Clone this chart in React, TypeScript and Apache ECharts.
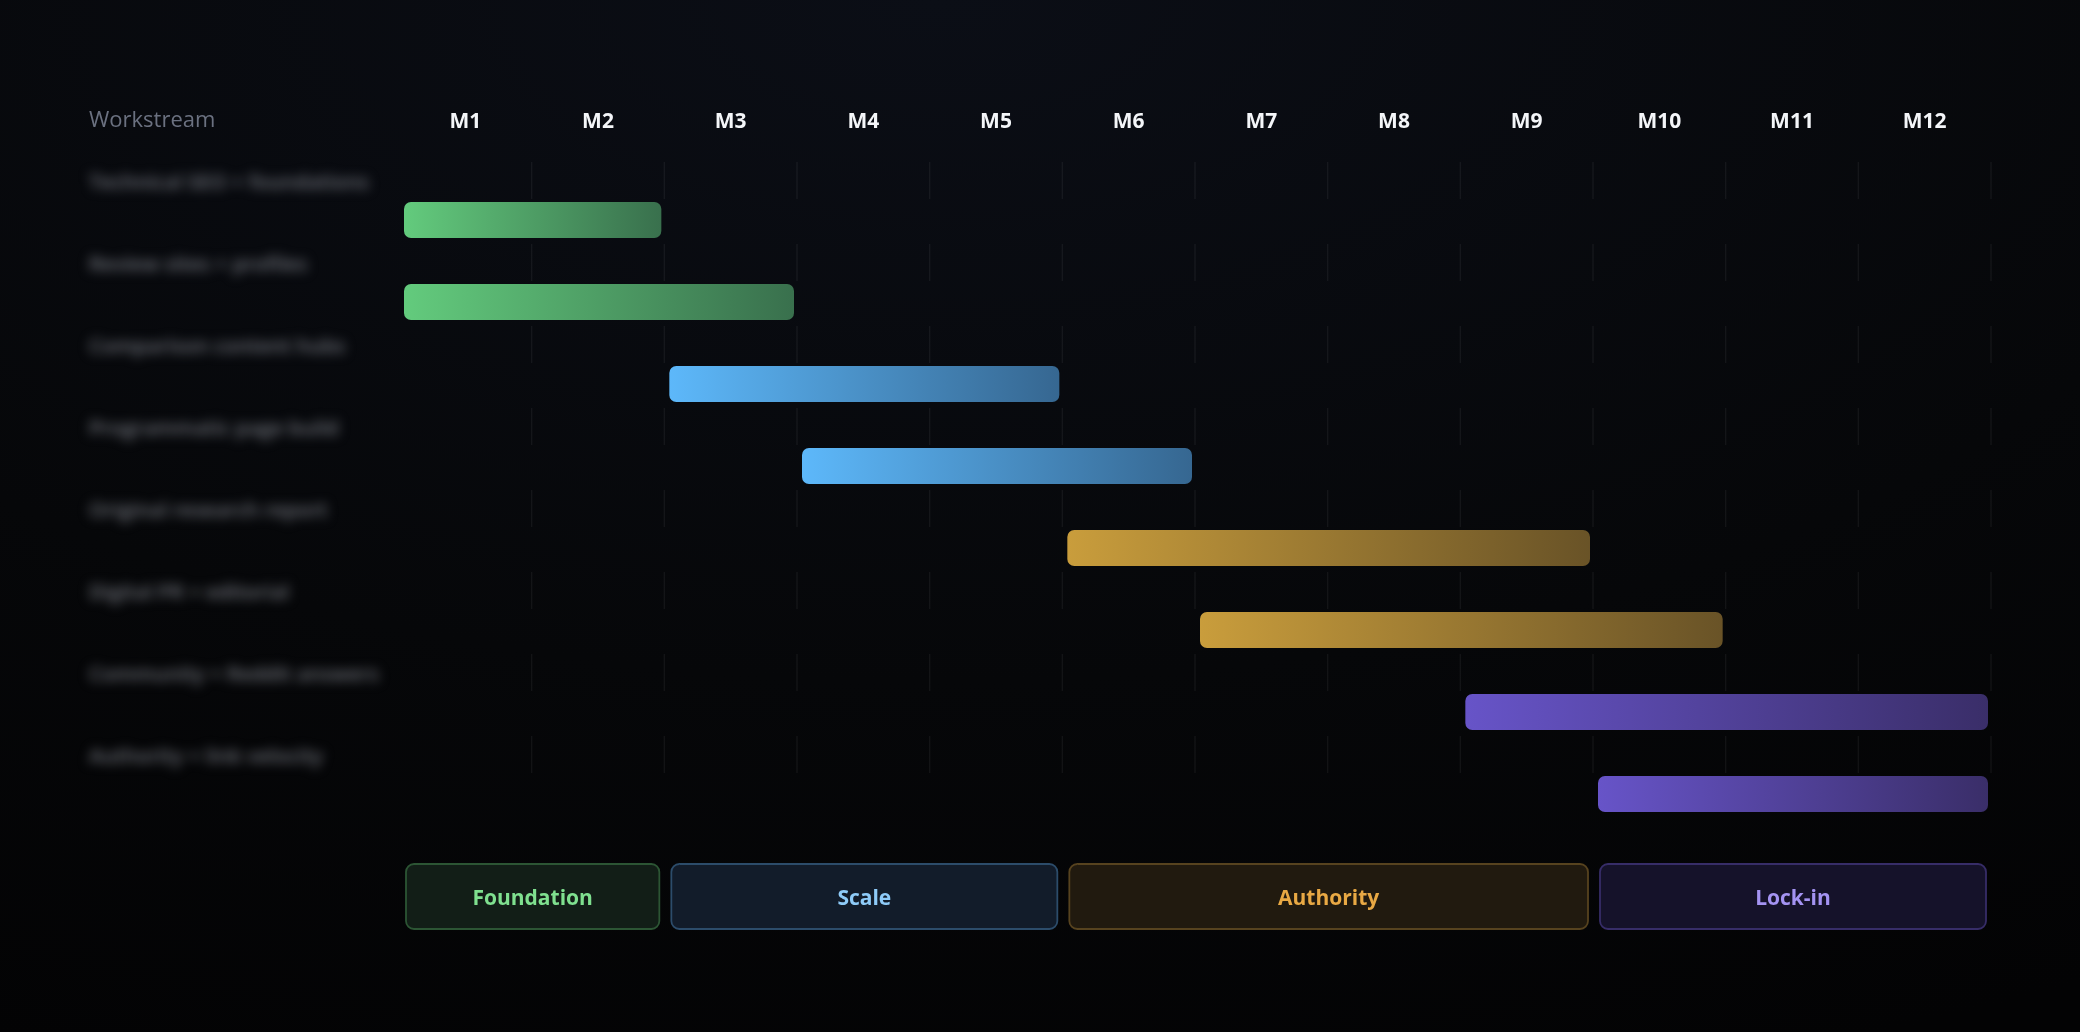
import React, { useEffect, useRef } from "react";
import * as echarts from "echarts";

// ---- data ----
const months = ["M1", "M2", "M3", "M4", "M5", "M6", "M7", "M8", "M9", "M10", "M11", "M12"];
const workstreams = [
  "Technical SEO + foundations",
  "Review sites + profiles",
  "Comparison content hubs",
  "Programmatic page build",
  "Original research report",
  "Digital PR + editorial",
  "Community + Reddit answers",
  "Authority + link velocity",
];
const barStart = [0, 0, 2, 3, 5, 6, 8, 9];
const barEnd = [2, 3, 5, 6, 9, 10, 12, 12];
const barPhase = [0, 0, 1, 1, 2, 2, 3, 3];

const phases = ["Foundation", "Scale", "Authority", "Lock-in"];
const phaseStart = [0, 2, 5, 9];
const phaseEnd = [2, 5, 9, 12];

// ---- styles ----
const FONT = '"Open Sans", "Noto Sans", sans-serif';
const barColors = [
  ["#63cb7d", "#39704d"],
  ["#5db8fa", "#366791"],
  ["#c99d3c", "#695327"],
  ["#6754c8", "#3a2e69"],
];
const phaseText = ["#7fe08f", "#8ecbf8", "#e9a944", "#a493f2"];
const phaseFill = ["#121e17", "#121c2a", "#211a0f", "#15122a"];
const phaseBorder = ["#2c5534", "#2c4c6a", "#57431f", "#372d68"];

export default function App() {
  const ref = useRef<HTMLDivElement>(null);

  useEffect(() => {
    if (!ref.current) return;
    const chart = echarts.init(ref.current, undefined, { renderer: "svg" });
    const rows = workstreams.length;

    const option: any = {
      animation: false,
      backgroundColor: {
        type: "radial",
        x: 0.45,
        y: 0,
        r: 1.1,
        colorStops: [
          { offset: 0, color: "#0b0e16" },
          { offset: 0.6, color: "#060709" },
          { offset: 1, color: "#030304" },
        ],
      },
      textStyle: { fontFamily: FONT },
      grid: { left: 399, top: 160, width: 1592, height: 656 },
      graphic: [
        {
          type: "text",
          left: 89,
          top: 107,
          silent: true,
          style: { text: "Workstream", fill: "#6b7180", font: `22px ${FONT}` },
        },
      ],
      xAxis: [
        {
          type: "category",
          data: months,
          position: "top",
          axisLine: { show: false },
          axisTick: { show: false },
          splitLine: { show: false },
          axisLabel: {
            color: "#f4f6f9",
            fontWeight: "bold",
            fontSize: 21,
            fontFamily: FONT,
            margin: 40,
            verticalAlign: "middle",
          },
        },
        { type: "value", min: 0, max: months.length, interval: 1, show: false },
      ],
      yAxis: { type: "value", min: 0, max: rows, interval: 1, inverse: true, show: false },
      series: [
        {
          type: "custom",
          name: "grid",
          silent: true,
          xAxisIndex: 1,
          clip: false,
          data: workstreams.map((_, i) => [0, i]),
          encode: { x: 0, y: 1 },
          renderItem: (params: any, api: any) => {
            const row = api.value(1);
            const children: any[] = [];
            for (let k = 1; k <= months.length; k++) {
              const p = api.coord([k, row]);
              children.push({
                type: "line",
                shape: { x1: p[0], y1: p[1] + 2, x2: p[0], y2: p[1] + 39 },
                style: { stroke: "rgba(255,255,255,0.055)", lineWidth: 1.5 },
              });
            }
            return { type: "group", children };
          },
        },
        {
          type: "custom",
          name: "labels",
          silent: true,
          xAxisIndex: 1,
          clip: false,
          data: workstreams.map((_, i) => [0, i]),
          encode: { x: 0, y: 1 },
          renderItem: (params: any, api: any) => {
            const p = api.coord([api.value(0), api.value(1)]);
            return {
              type: "text",
              x: p[0] - 310,
              y: p[1] + 21,
              style: {
                text: workstreams[params.dataIndex],
                fill: "#74777f",
                font: `600 20.5px ${FONT}`,
                verticalAlign: "middle",
                align: "left",
              },
            };
          },
        },
        {
          type: "custom",
          name: "bars",
          silent: true,
          xAxisIndex: 1,
          clip: false,
          data: workstreams.map((_, i) => [barStart[i], barEnd[i], i, barPhase[i]]),
          encode: { x: [0, 1], y: 2 },
          renderItem: (params: any, api: any) => {
            const row = api.value(2);
            const s = api.coord([api.value(0), row]);
            const e = api.coord([api.value(1), row]);
            const c = barColors[api.value(3)];
            return {
              type: "rect",
              shape: { x: s[0] + 5, y: s[1] + 42, width: e[0] - s[0] - 8, height: 36, r: 7 },
              style: {
                fill: new echarts.graphic.LinearGradient(0, 0, 1, 0, [
                  { offset: 0, color: c[0] },
                  { offset: 1, color: c[1] },
                ]),
              },
            };
          },
        },
        {
          type: "custom",
          name: "phases",
          silent: true,
          xAxisIndex: 1,
          clip: false,
          data: phases.map((_, i) => [phaseStart[i], phaseEnd[i], i, rows]),
          encode: { x: [0, 1], y: 3 },
          renderItem: (params: any, api: any) => {
            const idx = api.value(2);
            const s = api.coord([api.value(0), api.value(3)]);
            const e = api.coord([api.value(1), api.value(3)]);
            const x = s[0] + 7;
            const w = e[0] - s[0] - 12;
            const y = s[1] + 48;
            const h = 65;
            return {
              type: "group",
              children: [
                {
                  type: "rect",
                  shape: { x, y, width: w, height: h, r: 8 },
                  style: { fill: phaseFill[idx], stroke: phaseBorder[idx], lineWidth: 1.8 },
                },
                {
                  type: "text",
                  x: x + w / 2,
                  y: y + h / 2,
                  style: {
                    text: phases[idx],
                    fill: phaseText[idx],
                    font: `bold 21px ${FONT}`,
                    align: "center",
                    verticalAlign: "middle",
                  },
                },
              ],
            };
          },
        },
      ],
    };

    chart.setOption(option);

    const blurLabels = () => {
      const texts = ref.current?.querySelectorAll("text") || [];
      texts.forEach((t: any) => {
        if (workstreams.includes((t.textContent || "").trim())) {
          t.style.filter = "blur(6px)";
        }
      });
    };
    blurLabels();
    chart.on("finished", blurLabels);

    return () => {
      chart.dispose();
    };
  }, []);

  return (
    <div
      ref={ref}
      style={{ position: "fixed", left: 0, top: 0, width: 2080, height: 1032 }}
    />
  );
}
